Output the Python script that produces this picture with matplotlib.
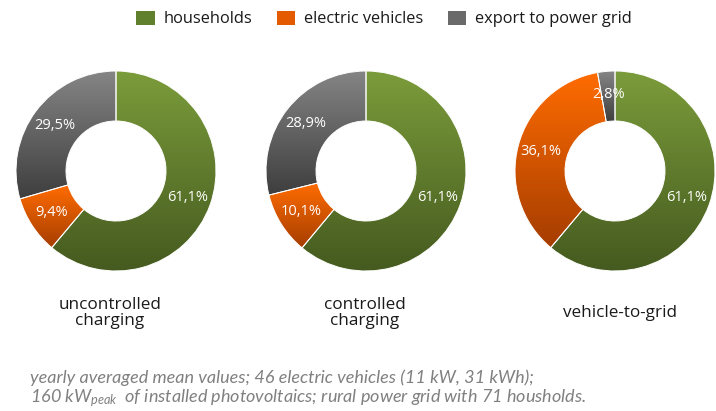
import numpy as np
import matplotlib
matplotlib.use('Agg')
import matplotlib.pyplot as plt
from matplotlib.colors import to_rgb
from matplotlib.patches import Patch

plt.rcParams['font.family'] = ['Lato', 'DejaVu Sans']
plt.rcParams['mathtext.fontset'] = 'custom'
plt.rcParams['mathtext.it'] = 'Lato:italic'
plt.rcParams['mathtext.rm'] = 'Lato'

categories = ['households', 'electric vehicles', 'export to power grid']
scenarios = ['uncontrolled\ncharging', 'controlled\ncharging', 'vehicle-to-grid']
shares = [
    [61.1, 9.4, 29.5],
    [61.1, 10.1, 28.9],
    [61.1, 36.1, 2.8],
]
pct_labels = [
    ['61,1%', '9,4%', '29,5%'],
    ['61,1%', '10,1%', '28,9%'],
    ['61,1%', '36,1%', '2,8%'],
]

# gradient top -> bottom per slice
grad_top = ['#7b9c3b', '#ff6c00', '#858585']
grad_bot = ['#455a1f', '#a53d00', '#3e3e3e']
legend_col = ['#61802e', '#e35a00', '#6a6a6a']

W, H = 716, 411
fig = plt.figure(figsize=(W / 100, H / 100), dpi=100)

R = 101
centers_x = [116, 366, 615]
center_y = 171
label_x = [110, 365, 620]
label_y = [313, 313, 313]


def gradient(c1, c2, n=256):
    a = np.array(to_rgb(c1))
    b = np.array(to_rgb(c2))
    t = np.linspace(0, 1, n)[:, None]
    return (a * (1 - t) + b * t)[:, None, :]


for i, vals in enumerate(shares):
    ax = fig.add_axes([(centers_x[i] - R) / W, (H - center_y - R) / H, 2 * R / W, 2 * R / H])
    wedges, _ = ax.pie(vals, startangle=90, counterclock=False, radius=1,
                       wedgeprops=dict(width=0.5, facecolor='none', edgecolor='white',
                                       linewidth=0.7, zorder=3))
    for j, w in enumerate(wedges):
        bb = w.get_path().get_extents()
        img = ax.imshow(gradient(grad_top[j], grad_bot[j]), extent=(bb.x0, bb.x1, bb.y0, bb.y1),
                        origin='upper', aspect='auto', zorder=2, interpolation='bilinear')
        img.set_clip_path(w)
        mid = np.deg2rad((w.theta1 + w.theta2) / 2)
        ax.text(0.765 * np.cos(mid), 0.765 * np.sin(mid), pct_labels[i][j], color='white',
                fontsize=10.5, ha='center', va='center', zorder=4, family='Open Sans')
    ax.set_xlim(-1.01, 1.01)
    ax.set_ylim(-1.01, 1.01)
    ax.set_aspect('equal')
    ax.axis('off')
    fig.text(label_x[i] / W, 1 - label_y[i] / H, scenarios[i], ha='center', va='center',
             fontsize=12.3, color='#1a1a1a', linespacing=1.08, family='Open Sans')

handles = [Patch(facecolor=c, edgecolor='none') for c in legend_col]
fig.legend(handles, categories, loc='center', bbox_to_anchor=(384 / W, 1 - 19 / H), ncol=3,
           frameon=False, prop={'family': 'Open Sans', 'size': 11.8},
           handlelength=1.1, handleheight=1.0, handletextpad=0.55, columnspacing=1.5,
           labelcolor='#1a1a1a')

fig.text(30 / W, 1 - 378 / H, 'yearly averaged mean values; 46 electric vehicles (11 kW, 31 kWh);',
         fontsize=13, style='italic', color='#808080', va='center')
fig.text(30 / W, 1 - 398 / H, r'160 kW$_{peak}$  of installed photovoltaics; rural power grid with 71 housholds.',
         fontsize=13, style='italic', color='#808080', va='center')

fig.savefig('out.png', dpi=100)
